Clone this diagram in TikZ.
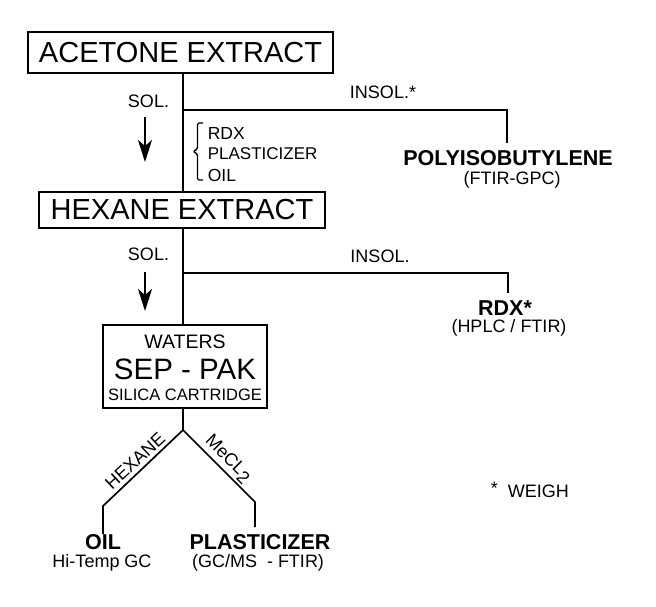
\documentclass[tikz,border=0pt]{standalone}
\usepackage{fontspec}
\setmainfont{Liberation Sans}
\usetikzlibrary{arrows.meta}
\begin{document}
\begin{tikzpicture}[x=1pt,y=-1pt,
  line width=1.7pt,
  bigbox/.style={draw,inner sep=0pt,font=\fontsize{29}{31}\selectfont},
  lbl/.style={inner sep=0pt,font=\fontsize{18}{20}\selectfont},
  bold/.style={inner sep=0pt,font=\fontsize{21.5}{23}\selectfont\bfseries},
  downarrow/.style={-{Stealth[length=22pt,width=14pt,inset=6pt]},line width=1.7pt}]
\useasboundingbox (0,0) rectangle (656,606);
% boxes
\node[bigbox,minimum width=305pt,minimum height=41pt] (acetone) at (180.5,52.5) {ACETONE EXTRACT};
\node[bigbox,minimum width=286pt,minimum height=36pt] (hexane) at (182,210) {HEXANE EXTRACT};
\node[draw,inner sep=0pt,minimum width=164pt,minimum height=83pt] (seppak) at (185,366.5) {};
\node[inner sep=0pt,font=\fontsize{19.5}{21}\selectfont] (waters) at (185,342) {WATERS};
\node[inner sep=0pt,font=\fontsize{29.5}{31}\selectfont] (sep) at (185,369) {SEP - PAK};
\node[inner sep=0pt,font=\fontsize{16.5}{18}\selectfont] (silica) at (185,395) {SILICA CARTRIDGE};
% junctions
\coordinate (j1) at (183,110);
\coordinate (c1) at (507,110);
\coordinate (e1) at (507,143);
\coordinate (j2) at (183,273);
\coordinate (c2) at (508,273);
\coordinate (e2) at (508,293);
\coordinate (j3) at (183,430);
\coordinate (l1) at (103,506);
\coordinate (l2) at (103,534);
\coordinate (r1) at (255,502);
\coordinate (r2) at (255,527);
% connectors
\draw (acetone.south -| j1) -- (hexane.north -| j1);
\draw (j1) -- (c1) -- (e1);
\draw (hexane.south -| j2) -- (seppak.north -| j2);
\draw (j2) -- (c2) -- (e2);
\draw (seppak.south -| j3) -- (j3);
\draw (j3) -- (l1) -- (l2);
\draw (j3) -- (r1) -- (r2);
% arrows
\coordinate (a1s) at (145,117);
\coordinate (a1e) at (145,162);
\coordinate (a2s) at (145,272);
\coordinate (a2e) at (145,311);
\draw[downarrow] (a1s) -- (a1e);
\draw[downarrow] (a2s) -- (a2e);
% labels
\node[lbl] (sol1) at (148.5,101) {SOL.};
\node[lbl] (insol1) at (383,92) {INSOL.*};
\node[lbl,anchor=west,font=\fontsize{17.5}{19}\selectfont] (rdx) at (207,133) {RDX};
\node[lbl,anchor=west,font=\fontsize{17}{19}\selectfont] (plast) at (207,154) {PLASTICIZER};
\node[lbl,anchor=west,font=\fontsize{17.5}{19}\selectfont] (oil) at (207,175) {OIL};
\draw[line width=1.4pt,rounded corners=1.5pt] (203,123) -- (197.5,123) -- (197.5,149) -- (193,151.5) -- (197.5,154) -- (197.5,180) -- (203,180);
\node[bold] (poly) at (508,158) {POLYISOBUTYLENE};
\node[lbl] (ftirgpc) at (512,180) {(FTIR-GPC)};
\node[lbl] (sol2) at (148.5,254) {SOL.};
\node[lbl] (insol2) at (380,256) {INSOL.};
\node[bold] (rdxs) at (505,308) {RDX*};
\node[lbl] (hplc) at (509,328) {(HPLC / FTIR)};
\node[lbl,rotate=43] (hexlbl) at (135,461) {HEXANE};
\node[lbl,rotate=-45] (mecl) at (228,459) {MeCL\raisebox{-0.45ex}{2}};
\node[bold] (oilb) at (103,542) {OIL};
\node[lbl] (hitemp) at (102,563) {Hi-Temp GC};
\node[bold] (plastb) at (260,542) {PLASTICIZER};
\node[lbl] (gcms) at (258,563) {(GC/MS\ \ - FTIR)};
\node[lbl,anchor=west] (weigh) at (490,490) {\raisebox{0.3ex}{*}\ \ WEIGH};
\end{tikzpicture}
\end{document}
